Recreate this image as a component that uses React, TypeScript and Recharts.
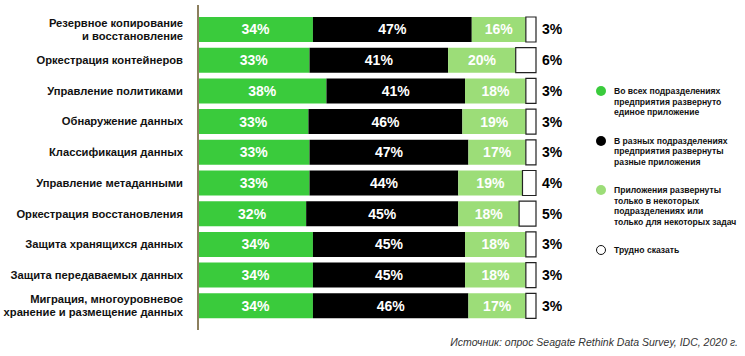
import React from "react";
import { BarChart, Bar, XAxis, YAxis, LabelList, Legend } from "recharts";

const categories = [
  "Резервное копирование\nи восстановление",
  "Оркестрация контейнеров",
  "Управление политиками",
  "Обнаружение данных",
  "Классификация данных",
  "Управление метаданными",
  "Оркестрация восстановления",
  "Защита хранящихся данных",
  "Защита передаваемых данных",
  "Миграция, многоуровневое\nхранение и размещение данных",
];

const single = [34, 33, 38, 33, 33, 33, 32, 34, 34, 34];
const different = [47, 41, 41, 46, 47, 44, 45, 45, 45, 46];
const partial = [16, 20, 18, 19, 17, 19, 18, 18, 18, 17];
const unsure = [3, 6, 3, 3, 3, 4, 5, 3, 3, 3];

const seriesNames = [
  "Во всех подразделениях\nпредприятия развернуто\nединое приложение",
  "В разных подразделениях\nпредприятия развернуты\nразные приложения",
  "Приложения развернуты\nтолько в некоторых\nподразделениях или\nтолько для некоторых задач",
  "Трудно сказать",
];

const data = categories.map((name, i) => ({
  name,
  single: single[i],
  different: different[i],
  partial: partial[i],
  unsure: unsure[i],
}));

const FONT = '"Liberation Sans", Arial, Helvetica, sans-serif';
const GREEN = "#3acb3c";
const LIGHT = "#9cdd78";
const colors = [GREEN, "#000000", LIGHT, "#ffffff"];

const pct = (v: any) => `${v}%`;

function CategoryTick({ x, y, payload }: any) {
  const lines = String(payload.value).split("\n");
  const lh = 13;
  const start = y - ((lines.length - 1) * lh) / 2;
  return (
    <text
      x={x}
      y={start}
      textAnchor="end"
      fontFamily={FONT}
      fontWeight="bold"
      fontSize={11.2}
      fill="#111"
    >
      {lines.map((l, i) => (
        <tspan key={i} x={x} y={start + i * lh} dy="0.36em">
          {l}
        </tspan>
      ))}
    </text>
  );
}

// legend in series order (recharts sorts the payload by name otherwise)
function LegendBox() {
  return (
    <div style={{ fontFamily: FONT, fontWeight: "bold", fontSize: 8.6, color: "#111" }}>
      {seriesNames.map((name, i) => (
        <div key={i} style={{ display: "flex", alignItems: "flex-start", marginBottom: 18 }}>
          <span
            style={{
              width: 10,
              height: 10,
              borderRadius: "50%",
              background: colors[i],
              border: i === 3 ? "1.3px solid #111" : "none",
              boxSizing: "border-box",
              marginRight: 8,
              flexShrink: 0,
            }}
          />
          <span style={{ whiteSpace: "pre", lineHeight: "10.5px" }}>{name}</span>
        </div>
      ))}
    </div>
  );
}

export default function App() {
  return (
    <div style={{ position: "relative", width: 745, height: 356, background: "#fff" }}>
      <style>{`body{margin:0}`}</style>
      <BarChart
        width={745}
        height={356}
        data={data}
        layout="vertical"
        stackOffset="expand"
        margin={{ top: 5, right: 209, bottom: 26, left: 0 }}
      >
        <XAxis type="number" domain={[0, 1]} hide />
        <YAxis
          type="category"
          dataKey="name"
          width={198}
          padding={{ top: 9, bottom: 9 }}
          axisLine={{ stroke: "#8c7f5e", strokeWidth: 2 }}
          tickLine={false}
          tickSize={0}
          tickMargin={15}
          interval={0}
          tick={<CategoryTick />}
        />
        <Legend
          layout="vertical"
          align="center"
          verticalAlign="middle"
          wrapperStyle={{ left: 596, top: 86, width: 150 }}
          content={<LegendBox />}
        />
        <Bar dataKey="single" name={seriesNames[0]} stackId="a" fill={GREEN} barSize={25} isAnimationActive={false}>
          <LabelList dataKey="single" position="center" formatter={pct} fill="#fff" fontFamily={FONT} fontWeight="bold" fontSize={14} />
        </Bar>
        <Bar dataKey="different" name={seriesNames[1]} stackId="a" fill="#000000" barSize={25} isAnimationActive={false}>
          <LabelList dataKey="different" position="center" formatter={pct} fill="#fff" fontFamily={FONT} fontWeight="bold" fontSize={14} />
        </Bar>
        <Bar dataKey="partial" name={seriesNames[2]} stackId="a" fill={LIGHT} barSize={25} isAnimationActive={false}>
          <LabelList dataKey="partial" position="center" formatter={pct} fill="#fff" fontFamily={FONT} fontWeight="bold" fontSize={14} />
        </Bar>
        <Bar
          dataKey="unsure"
          name={seriesNames[3]}
          stackId="a"
          fill="#ffffff"
          stroke="#222"
          strokeWidth={1.2}
          barSize={25}
          isAnimationActive={false}
        >
          <LabelList dataKey="unsure" position="right" offset={6} formatter={pct} fill="#000" fontFamily={FONT} fontWeight="bold" fontSize={14} />
        </Bar>
      </BarChart>
      <div
        style={{
          position: "absolute",
          right: 7,
          top: 336,
          fontFamily: FONT,
          fontStyle: "italic",
          fontSize: 10.5,
          color: "#333",
        }}
      >
        Источник: опрос Seagate Rethink Data Survey, IDC, 2020 г.
      </div>
    </div>
  );
}
